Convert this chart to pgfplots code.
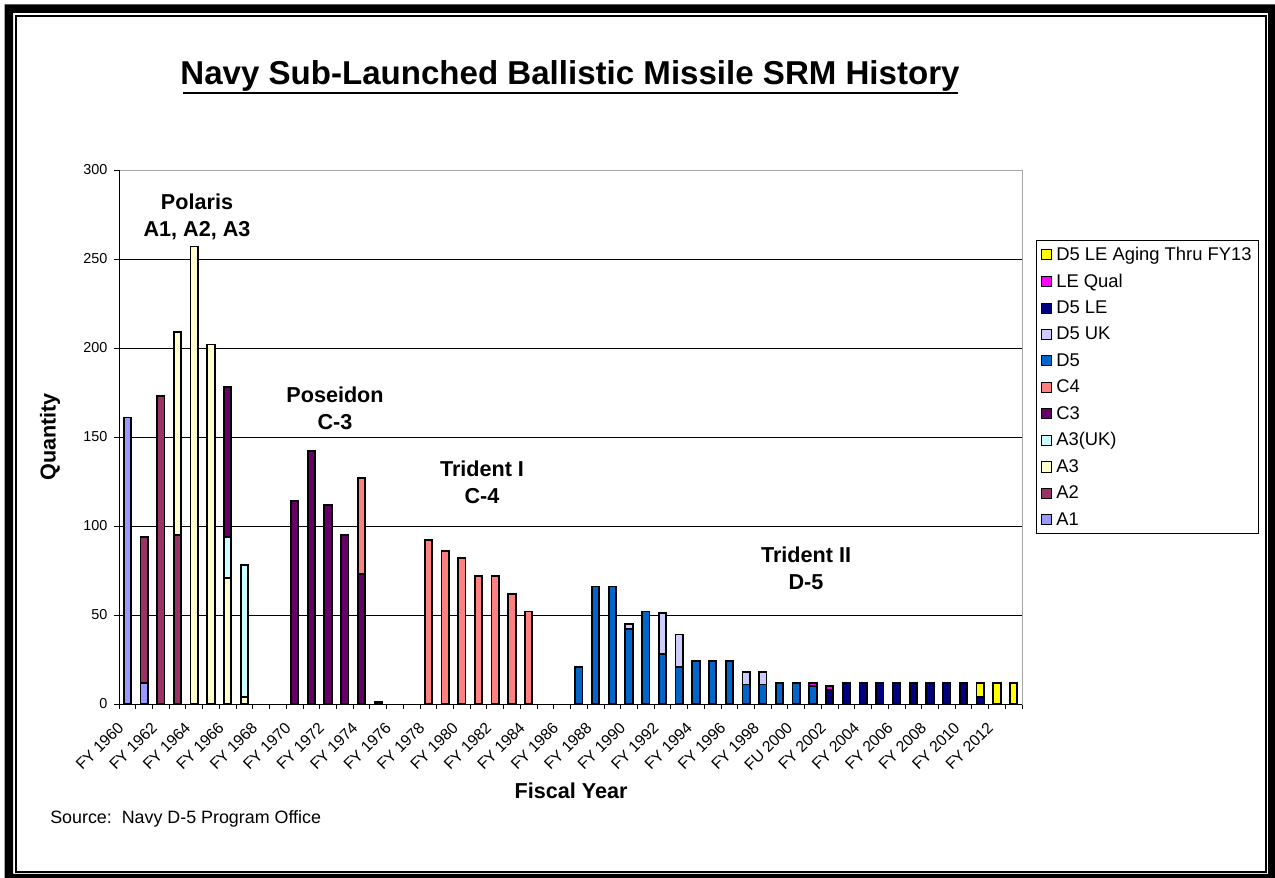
\documentclass[border=0pt]{standalone}
\usepackage{pgfplots}
\pgfplotsset{compat=1.18}
\usepackage{pgfplotstable}
\usepackage{fontspec}
\setmainfont{Liberation Sans}

\definecolor{cA1}{HTML}{9999FF}
\definecolor{cA2}{HTML}{993366}
\definecolor{cA3}{HTML}{FFFFCC}
\definecolor{cA3UK}{HTML}{CCFFFF}
\definecolor{cC3}{HTML}{660066}
\definecolor{cC4}{HTML}{FF8080}
\definecolor{cD5}{HTML}{0066CC}
\definecolor{cD5UK}{HTML}{CCCCFF}
\definecolor{cD5LE}{HTML}{000080}
\definecolor{cLEQ}{HTML}{FF00FF}
\definecolor{cAG}{HTML}{FFFF00}

\pgfplotstableread{
i  A1  A2  A3  A3UK C3  C4  D5  D5UK D5LE LEQ AG
0  161 0   0   0    0   0   0   0    0    0   0
1  12  82  0   0    0   0   0   0    0    0   0
2  0   173 0   0    0   0   0   0    0    0   0
3  0   95  114 0    0   0   0   0    0    0   0
4  0   0   257 0    0   0   0   0    0    0   0
5  0   0   202 0    0   0   0   0    0    0   0
6  0   0   71  23   84  0   0   0    0    0   0
7  0   0   4   74   0   0   0   0    0    0   0
8  0   0   0   0    0   0   0   0    0    0   0
9  0   0   0   0    0   0   0   0    0    0   0
10 0   0   0   0    114 0   0   0    0    0   0
11 0   0   0   0    142 0   0   0    0    0   0
12 0   0   0   0    112 0   0   0    0    0   0
13 0   0   0   0    95  0   0   0    0    0   0
14 0   0   0   0    73  54  0   0    0    0   0
15 0   0   0   0    1   0   0   0    0    0   0
16 0   0   0   0    0   0   0   0    0    0   0
17 0   0   0   0    0   0   0   0    0    0   0
18 0   0   0   0    0   92  0   0    0    0   0
19 0   0   0   0    0   86  0   0    0    0   0
20 0   0   0   0    0   82  0   0    0    0   0
21 0   0   0   0    0   72  0   0    0    0   0
22 0   0   0   0    0   72  0   0    0    0   0
23 0   0   0   0    0   62  0   0    0    0   0
24 0   0   0   0    0   52  0   0    0    0   0
25 0   0   0   0    0   0   0   0    0    0   0
26 0   0   0   0    0   0   0   0    0    0   0
27 0   0   0   0    0   0   21  0    0    0   0
28 0   0   0   0    0   0   66  0    0    0   0
29 0   0   0   0    0   0   66  0    0    0   0
30 0   0   0   0    0   0   42  3    0    0   0
31 0   0   0   0    0   0   52  0    0    0   0
32 0   0   0   0    0   0   28  23   0    0   0
33 0   0   0   0    0   0   21  18   0    0   0
34 0   0   0   0    0   0   24  0    0    0   0
35 0   0   0   0    0   0   24  0    0    0   0
36 0   0   0   0    0   0   24  0    0    0   0
37 0   0   0   0    0   0   11  7    0    0   0
38 0   0   0   0    0   0   11  7    0    0   0
39 0   0   0   0    0   0   12  0    0    0   0
40 0   0   0   0    0   0   12  0    0    0   0
41 0   0   0   0    0   0   10  0    0    2   0
42 0   0   0   0    0   0   0   0    8    2   0
43 0   0   0   0    0   0   0   0    12   0   0
44 0   0   0   0    0   0   0   0    12   0   0
45 0   0   0   0    0   0   0   0    12   0   0
46 0   0   0   0    0   0   0   0    12   0   0
47 0   0   0   0    0   0   0   0    12   0   0
48 0   0   0   0    0   0   0   0    12   0   0
49 0   0   0   0    0   0   0   0    12   0   0
50 0   0   0   0    0   0   0   0    12   0   0
51 0   0   0   0    0   0   0   0    4    0   8
52 0   0   0   0    0   0   0   0    0    0   12
53 0   0   0   0    0   0   0   0    0    0   12
}\data

\begin{document}
\begin{tikzpicture}
\path[use as bounding box] (0,0) rectangle (956.25pt,658.5pt);
\begin{axis}[
  at={(89.25pt,130.5pt)}, anchor=south west,
  scale only axis, width=677.25pt, height=400.5pt,
  ybar stacked, bar width=0.44,
  xmin=-0.5, xmax=53.5, ymin=0, ymax=300,
  ytick={0,50,...,300},
  xtick={0,2,...,52},
  xticklabels={FY 1960,FY 1962,FY 1964,FY 1966,FY 1968,FY 1970,FY 1972,FY 1974,FY 1976,FY 1978,FY 1980,FY 1982,FY 1984,FY 1986,FY 1988,FY 1990,FY 1992,FY 1994,FY 1996,FY 1998,FU 2000,FY 2002,FY 2004,FY 2006,FY 2008,FY 2010,FY 2012},
  minor xtick={-0.5,0.5,...,53.5},
  xtick pos=bottom, ytick pos=left,
  major x tick style={draw=none},
  minor x tick style={black, line width=0.6pt},
  y tick style={black, line width=0.6pt},
  tick align=outside,
  major tick length=3.75pt, minor tick length=3.75pt,
  ymajorgrids, major grid style={black, line width=0.5pt},
  axis line style={gray!70, line width=0.6pt},
  tick label style={font=\fontsize{10.8}{12}\selectfont},
  y tick label style={xshift=-1.5pt},
  x tick label style={anchor=east, inner sep=0.5pt, xshift=-4.5pt, yshift=-11.5pt, rotate=45, font=\fontsize{11.8}{13}\selectfont},
  /pgf/number format/assume math mode=true,
  reverse legend,
  legend image code/.code={\draw[#1, draw=black, line width=0.75pt] (0pt,-3.8pt) rectangle (7.6pt,3.8pt);},
  legend style={at={(1.0155,0.869)}, anchor=north west, draw=black, line width=0.75pt,
    font=\fontsize{13.8}{15}\selectfont, row sep=4.7pt, inner xsep=3pt, inner ysep=3pt,
    cells={anchor=west}, /tikz/every odd column/.append style={column sep=1.5pt}},
  every axis plot/.append style={draw=black, line width=1.35pt},
  after end axis/.code={
    \draw[black, line width=0.7pt] (rel axis cs:0,0) -- (rel axis cs:0,1);
    \draw[black, line width=0.7pt] (rel axis cs:0,0) -- (rel axis cs:1,0);
  },
]
\addplot[fill=cA1] table[x=i,y=A1] {\data};
\addplot[fill=cA2] table[x=i,y=A2] {\data};
\addplot[fill=cA3] table[x=i,y=A3] {\data};
\addplot[fill=cA3UK] table[x=i,y=A3UK] {\data};
\addplot[fill=cC3] table[x=i,y=C3] {\data};
\addplot[fill=cC4] table[x=i,y=C4] {\data};
\addplot[fill=cD5] table[x=i,y=D5] {\data};
\addplot[fill=cD5UK] table[x=i,y=D5UK] {\data};
\addplot[fill=cD5LE] table[x=i,y=D5LE] {\data};
\addplot[fill=cLEQ] table[x=i,y=LEQ] {\data};
\addplot[fill=cAG] table[x=i,y=AG] {\data};
\legend{A1,A2,A3,A3(UK),C3,C4,D5,D5 UK,D5 LE,LE Qual,D5 LE Aging Thru FY13}
\end{axis}
\begin{scope}[x=0.75pt,y=-0.75pt,shift={(0pt,658.5pt)}]
  % frame
  \fill[black, even odd rule] (4.5,4.5) rectangle (1275,878) (13,13) rectangle (1268,874);
  \draw[black, line width=1.5pt] (16,16) rectangle (1266,872);
  % title
  \node[font=\bfseries\fontsize{24.8}{27}\selectfont, anchor=base] at (570,85) {Navy Sub-Launched Ballistic Missile SRM History};
  \draw[line width=2.2pt] (183,93) -- (958,93);
  % annotations
  \node[font=\bfseries\fontsize{16.2}{20.5}\selectfont, align=center] at (197,217) {Polaris\\A1, A2, A3};
  \node[font=\bfseries\fontsize{16.2}{20.5}\selectfont, align=center] at (335,408) {Poseidon\\C-3};
  \node[font=\bfseries\fontsize{16.2}{20.5}\selectfont, align=center] at (482,482) {Trident I\\C-4};
  \node[font=\bfseries\fontsize{16.2}{20.5}\selectfont, align=center] at (806,568) {Trident II\\D-5};
  % axis labels
  \node[font=\bfseries\fontsize{16.2}{19}\selectfont, rotate=90] at (50,437) {Quantity};
  \node[font=\bfseries\fontsize{16.2}{19}\selectfont] at (571,791) {Fiscal Year};
  \node[font=\fontsize{13.4}{15}\selectfont, anchor=west, inner sep=0pt] at (50,819) {Source:\ \ Navy D-5 Program Office};
\end{scope}
\end{tikzpicture}
\end{document}
